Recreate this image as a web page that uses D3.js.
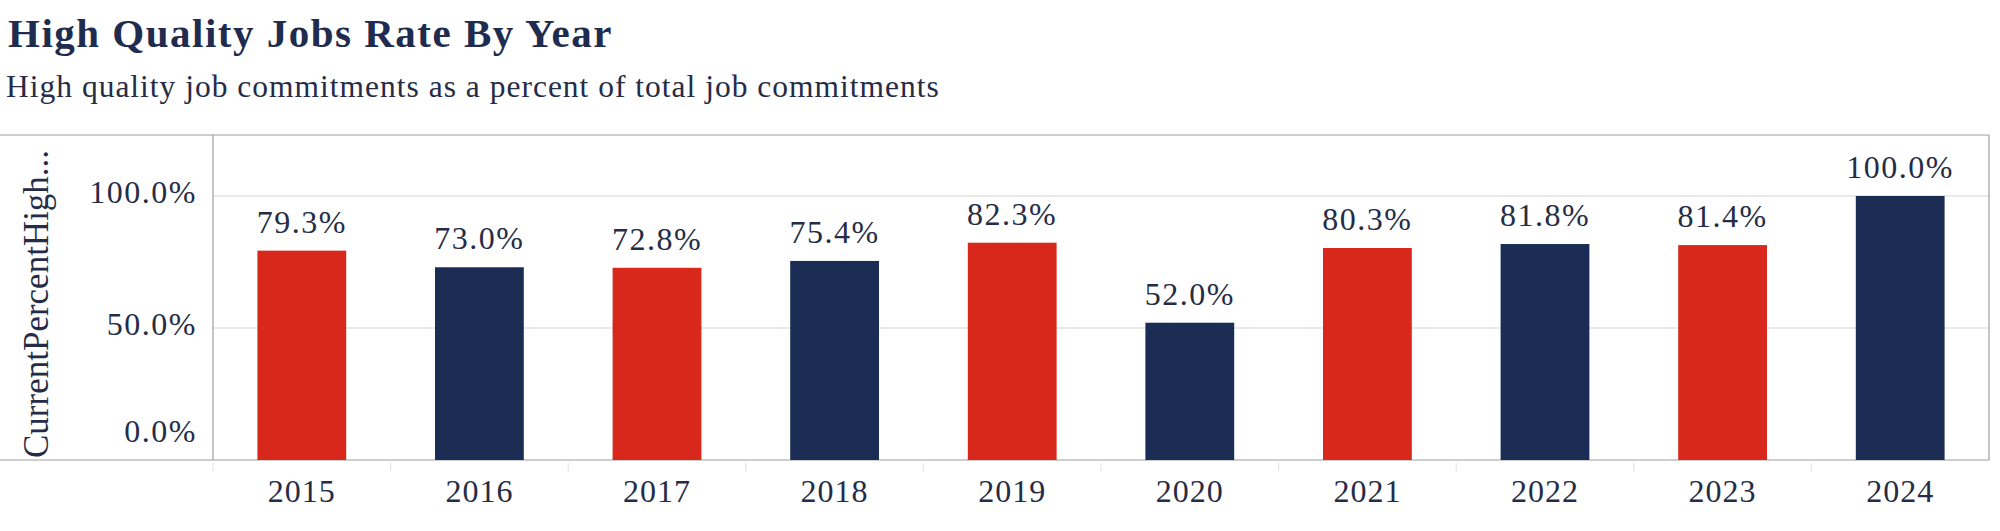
<!DOCTYPE html>
<html>
<head>
<meta charset="utf-8">
<script src="https://cdn.jsdelivr.net/npm/d3@7"></script>
<style>
  html, body { margin: 0; padding: 0; background: #ffffff; }
  svg { display: block; }
  text { font-family: "Liberation Serif", "Times New Roman", serif; }
</style>
</head>
<body>
<svg id="chart" width="2000" height="531"></svg>
<script>
const years = ["2015","2016","2017","2018","2019","2020","2021","2022","2023","2024"];
const rates = [0.793, 0.730, 0.728, 0.754, 0.823, 0.520, 0.803, 0.818, 0.814, 1.000];
const yTicks = [0, 0.5, 1.0];
const titleText = "High Quality Jobs Rate By Year";
const subtitleText = "High quality job commitments as a percent of total job commitments";
const yAxisTitle = "CurrentPercentHigh...";

const W = 2000, H = 531;
const plot = { left: 213, right: 1989, top: 135, bottom: 460 };
const RED = "#D8281C", NAVY = "#1B2D54", TEXT = "#252C47", TITLE = "#1F2C4F";
const NUM_SIZE = 32, NUM_LS = 1.5;

const svg = d3.select("#chart");

svg.append("text").attr("x", 8).attr("y", 47)
  .attr("font-size", 41).attr("font-weight", "bold").attr("fill", TITLE)
  .attr("letter-spacing", 1.5)
  .text(titleText);
svg.append("text").attr("x", 6).attr("y", 97)
  .attr("font-size", 31.5).attr("fill", TEXT)
  .attr("letter-spacing", 1.0)
  .text(subtitleText);

const x = d3.scaleBand().domain(years).range([plot.left, plot.right])
  .paddingInner(0.5).paddingOuter(0.25);
const y = d3.scaleLinear().domain([0, 1.231]).range([plot.bottom, plot.top]);

// gridlines
svg.append("g").selectAll("line").data(yTicks.filter(d => d > 0)).join("line")
  .attr("x1", plot.left).attr("x2", plot.right)
  .attr("y1", d => y(d)).attr("y2", d => y(d))
  .attr("stroke", "#e2e2e2").attr("stroke-width", 1.5);

// frame lines
const frame = svg.append("g").attr("stroke", "#9e9e9e").attr("stroke-width", 1.2);
frame.append("line").attr("x1", 0).attr("x2", plot.right).attr("y1", plot.top).attr("y2", plot.top);
frame.append("line").attr("x1", 0).attr("x2", plot.right).attr("y1", plot.bottom).attr("y2", plot.bottom);
frame.append("line").attr("x1", plot.left).attr("x2", plot.left).attr("y1", plot.top).attr("y2", plot.bottom);
frame.append("line").attr("x1", plot.right).attr("x2", plot.right).attr("y1", plot.top).attr("y2", plot.bottom);

// faint category boundary ticks
const bounds = years.map(d => x(d) - x.step() * x.paddingInner() / 2);
bounds[0] = plot.left;
svg.append("g").selectAll("line").data(bounds).join("line")
  .attr("x1", d => d).attr("x2", d => d).attr("y1", plot.bottom + 3).attr("y2", plot.bottom + 11)
  .attr("stroke", "#e4e4e4").attr("stroke-width", 1.2);

// y axis labels
const yAxis = svg.append("g").attr("transform", `translate(${plot.left},0)`)
  .call(d3.axisLeft(y).tickValues(yTicks).tickFormat(d3.format(".1%")).tickSize(0).tickPadding(16));
yAxis.select(".domain").remove();
yAxis.selectAll("text")
  .attr("font-family", '"Liberation Serif", serif')
  .attr("font-size", NUM_SIZE).attr("fill", TEXT)
  .attr("letter-spacing", NUM_LS)
  .attr("dy", d => d === 0 ? "-0.57em" : "0.19em");

// x axis labels
const xAxis = svg.append("g").attr("transform", `translate(0,${plot.bottom})`)
  .call(d3.axisBottom(x).tickSize(0).tickPadding(19));
xAxis.select(".domain").remove();
xAxis.selectAll("text")
  .attr("font-family", '"Liberation Serif", serif')
  .attr("font-size", NUM_SIZE).attr("fill", TEXT)
  .attr("letter-spacing", 1.0);

// bars
svg.append("g").selectAll("rect").data(years).join("rect")
  .attr("x", d => x(d)).attr("width", x.bandwidth())
  .attr("y", (d, i) => y(rates[i])).attr("height", (d, i) => y(0) - y(rates[i]))
  .attr("fill", (d, i) => i % 2 === 0 ? RED : NAVY);

// bar labels
svg.append("g").selectAll("text").data(years).join("text")
  .attr("x", d => x(d) + x.bandwidth() / 2)
  .attr("y", (d, i) => y(rates[i]) - 18)
  .attr("text-anchor", "middle").attr("font-size", NUM_SIZE).attr("fill", TEXT)
  .attr("letter-spacing", NUM_LS)
  .text((d, i) => d3.format(".1%")(rates[i]));

// y axis title
svg.append("text")
  .attr("transform", "translate(48,458) rotate(-90)")
  .attr("font-size", 35).attr("fill", TEXT)
  .text(yAxisTitle);
</script>
</body>
</html>
